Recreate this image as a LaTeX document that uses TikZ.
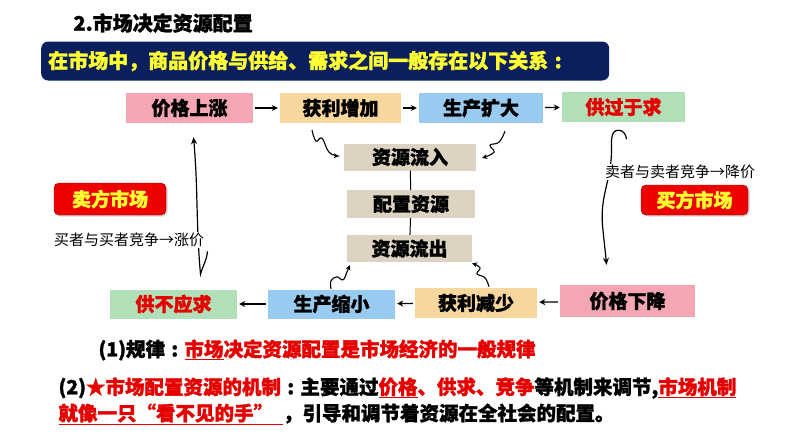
\documentclass[tikz,border=0pt]{standalone}
\usepackage{fontspec}
\setmainfont{Noto Sans CJK SC}[BoldFeatures={FakeBold=1.5}]
\usepackage{tikz}
\usetikzlibrary{calc, arrows.meta, shadows}

\definecolor{navy}{HTML}{0B1F5E}
\definecolor{hlyellow}{HTML}{FFFF33}
\definecolor{txtred}{HTML}{E50000}
\definecolor{boxpink}{HTML}{F4A6B3}
\definecolor{boxorange}{HTML}{F7D79E}
\definecolor{boxblue}{HTML}{99CBF1}
\definecolor{boxgreen}{HTML}{B1E0B8}
\definecolor{boxbeige}{HTML}{DCD3C2}
\definecolor{marketred}{HTML}{EE0000}

\tikzset{
	flowbox/.style={minimum height=30, inner sep=0, font=\fontsize{19}{20}\selectfont\bfseries},
	market/.style={fill=marketred, draw=red!55!black, rounded corners=5, text=hlyellow,
		inner sep=0, font=\fontsize{19}{20}\selectfont\bfseries,
		drop shadow={opacity=0.35, shadow xshift=1.5pt, shadow yshift=-1.5pt}},
	compete/.style={fill=white, inner sep=1, font=\fontsize{15}{16}\selectfont},
	flowarr/.style={-{Stealth[length=6,width=6]}, line width=1.3, shorten >=2, shorten <=2},
	wavy/.style={-{Stealth[length=5,width=5]}, line width=1.1},
	bigarr/.style={-{Stealth[length=7,width=6]}, line width=1.2}
}
% colon centred in a full-width cell
\def\cc{\hbox to 1em{\hss:\hss}}

\begin{document}
\begin{tikzpicture}[x=1pt, y=-1pt]
		%canvas of the slide
		\useasboundingbox (0,0) rectangle (794,447);
		\def\bottomfont{\fontsize{19.5}{22}\selectfont\bfseries}
		
		%title and banner
		\node [anchor=west, font=\fontsize{20}{22}\selectfont\bfseries] (title) at (70,23) {2.市场决定资源配置};
		\node [anchor=west, fill=navy, rounded corners=7, text=hlyellow, minimum height=39,
			text width=554, inner xsep=7, align=left, font=\fontsize{20}{22}\selectfont\bfseries]
			(intro) at (41,61) {在市场中，商品价格与供给、需求之间一般存在以下关系\cc};
		
		%upper row
		\node [flowbox, fill=boxpink, minimum width=127] (rise) at (189.5,108) {价格上涨};
		\node [flowbox, fill=boxorange, minimum width=121] (gainup) at (340.5,108) {获利增加};
		\node [flowbox, fill=boxblue, minimum width=124] (expand) at (481,108) {生产扩大};
		\node [flowbox, fill=boxgreen, minimum width=123, text=txtred] (surplus) at (623.5,107) {供过于求};
		
		%middle column
		\node [flowbox, fill=boxbeige, minimum width=132, minimum height=27] (inflow) at (410,157) {资源流入};
		\node [flowbox, fill=boxbeige, minimum width=128, minimum height=28] (alloc) at (411,204) {配置资源};
		\node [flowbox, fill=boxbeige, minimum width=125, minimum height=27] (outflow) at (409.5,248.5) {资源流出};
		
		%lower row
		\node [flowbox, fill=boxgreen, minimum width=127, minimum height=29, text=txtred] (shortage) at (173.5,304) {供不应求};
		\node [flowbox, fill=boxblue, minimum width=127, minimum height=29] (shrink) at (331.5,304) {生产缩小};
		\node [flowbox, fill=boxorange, minimum width=122, minimum height=30] (gaindown) at (476,303) {获利减少};
		\node [flowbox, fill=boxpink, minimum width=135, minimum height=32] (fall) at (627.5,301) {价格下降};
		
		%the two markets
		\node [market, minimum width=112, minimum height=32] (seller) at (110,199) {卖方市场};
		\node [market, minimum width=107, minimum height=30] (buyer) at (694.5,200) {买方市场};
		
		%straight arrows
		\draw [flowarr] (rise) -- (gainup);
		\draw [flowarr] (gainup) -- (expand);
		\draw [flowarr] (expand) -- (surplus);
		\draw [flowarr] (fall) -- (gaindown);
		\draw [flowarr] (gaindown) -- (shrink);
		\draw [flowarr] (shrink) -- (shortage);
		\draw [line width=1] (inflow) -- (alloc);
		\draw [line width=1] (alloc) -- (outflow);
		
		%wavy arrows
		\draw [wavy] plot [smooth, tension=0.7] coordinates {($(gainup.south)+(-28.5,7)$) ($(gainup.south)+(-24.5,18)$)
			($(gainup.south)+(-18.5,15)$) ($(gainup.south)+(-11.5,29)$) ($(inflow.west)+(-5,-1)$)};
		\draw [wavy] plot [smooth, tension=0.7] coordinates {($(expand.south)+(24,8)$) ($(expand.south)+(18,19)$)
			($(expand.south)+(9,22)$) ($(expand.south)+(13,29)$) ($(inflow.east)+(6,1)$)};
		\draw [wavy] plot [smooth, tension=0.7] coordinates {($(shrink.north)+(-0.5,-0.5)$) ($(shrink.north)+(-0.5,-8.5)$)
			($(shrink.north)+(5.5,-12.5)$) ($(shrink.north)+(11.5,-9.5)$) ($(shrink.north)+(15.5,-17.5)$) ($(outflow.south west)+(3,3)$)};
		\draw [wavy] plot [smooth, tension=0.7] coordinates {($(gaindown.north)+(13,-1)$) ($(gaindown.north)+(9,-10)$)
			($(gaindown.north)+(1,-14)$) ($(gaindown.north)+(4,-20)$) ($(outflow.south east)+(0,1)$)};
		
		%price arrows at both sides
		\coordinate (vbot) at ($(shortage.north)+(27,-15)$);
		\draw [bigarr] ($(vbot)+(7,-23)$) to[out=-95, in=75] (vbot) to[out=95, in=-85] ($(rise.south)+(4,14)$);
		\draw [bigarr] ($(surplus.south)+(3,17)$) to[out=95, in=0] ($(surplus.south)+(-5,8)$)
			to[out=180, in=90] ($(surplus.south)+(-12,28)$) to[out=-90, in=95] ($(fall.north)+(-25,-60)$)
			to[out=-85, in=95] ($(fall.north)+(-21,-20)$);
		\node [compete] (buycomp) at (129,240) {买者与买者竞争→涨价};
		\node [compete] (sellcomp) at (680,172) {卖者与卖者竞争→降价};
		
		%text below
		\node [anchor=west, font=\bottomfont] (law) at (95,350)
			{(1)规律\cc\textcolor{txtred}{\underline{市场}决定资源配置是市场经济的一般规律}};
		\node [anchor=west, font=\bottomfont] (mech1) at (55,388)
			{(2)\textcolor{txtred}{★市场配置资源的机制}\cc 主要通过\textcolor{txtred}{\underline{价格}、供求、竞争}等机制来调节,\textcolor{txtred}{\underline{市场机制}}};
		\node [anchor=west, font=\bottomfont] (mech2) at (55,414)
			{\textcolor{txtred}{\underline{就像一只“看不见的手”\hspace{10pt}}}，引导和调节着资源在全社会的配置。};
	\end{tikzpicture}
\end{document}
